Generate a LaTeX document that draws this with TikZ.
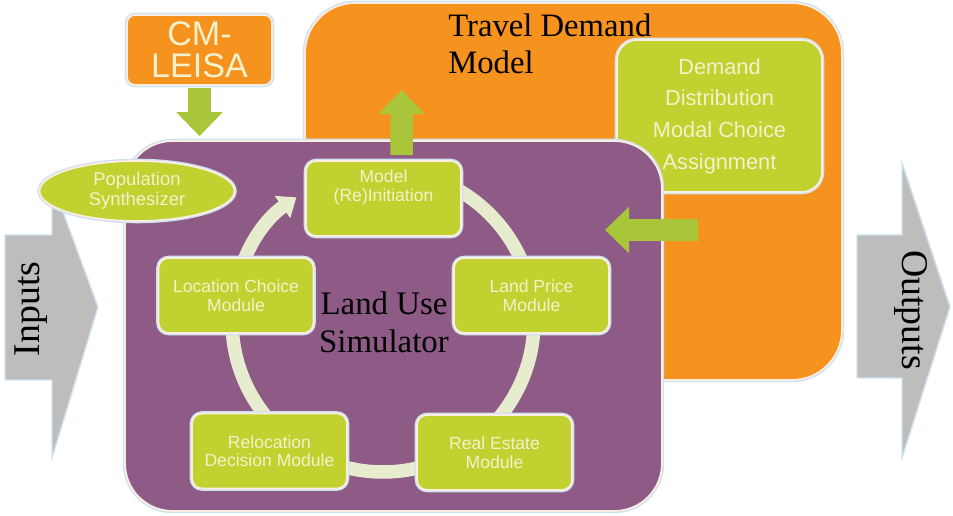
\documentclass[tikz,border=0pt]{standalone}
\usepackage{fontspec}
\setmainfont{Liberation Serif}
\setsansfont{Liberation Sans}
\usetikzlibrary{arrows.meta,shapes.geometric}

\definecolor{tdmorange}{HTML}{F6921E}
\definecolor{simpurple}{HTML}{8D5B86}
\definecolor{modgreen}{HTML}{C1D12F}
\definecolor{modtext}{HTML}{F4F2CC}
\definecolor{ringcream}{HTML}{E7ECCF}
\definecolor{arrowgreen}{HTML}{A9C63B}
\definecolor{iogray}{HTML}{BDBDBD}
\definecolor{rim}{HTML}{FBEDE3}
\definecolor{halo}{HTML}{CFE3EE}

\tikzset{
  halo/.style={preaction={draw=halo,line width=2.6pt}},
  box/.style={draw=rim,line width=1pt,halo},
  modfont/.style={align=center,text=modtext,font=\sffamily\fontsize{10}{10.5}\selectfont},
  module/.style={box,modfont,fill=modgreen,rounded corners=0.2cm,
    minimum width=3.1cm,minimum height=1.5cm,inner sep=0pt},
  feed/.style={draw=arrowgreen,line width=0.45cm,-{Triangle[width=0.9cm,length=0.48cm]}},
  ring/.style={draw=ringcream,line width=0.27cm,-{Triangle[width=0.52cm,length=0.34cm]}},
  io/.style={fill=iogray,draw=halo,line width=0.8pt},
  title/.style={font=\fontsize{18.6}{21.5}\selectfont,inner sep=0pt}
}

\begin{document}
\begin{tikzpicture}[x=0.02cm,y=-0.02cm]
    \useasboundingbox (0,0) rectangle (953,516);
    % travel demand model
    \node[box,fill=tdmorange,rounded corners=1cm,minimum width=10.74cm,minimum height=7.54cm] (tdm) at (573.5,191.5) {};
    \node[title,anchor=north west,align=left] (tdmtitle) at (448,13) {Travel Demand\\Model};
    \node[box,fill=modgreen,rounded corners=0.4cm,minimum width=4.1cm,minimum height=3.04cm,
      align=center,text=modtext,font=\sffamily\fontsize{12.4}{18}\selectfont] (demand) at (719.5,116)
      {Demand\\Distribution\\Modal Choice\\Assignment};

    % land use simulator
    \node[box,fill=simpurple,rounded corners=0.95cm,minimum width=10.74cm,minimum height=7.4cm] (sim) at (393.5,326) {};
    \draw[ring] (383,170) arc[start angle=-90,end angle=235,radius=151];

    \node[module,label={[modfont,anchor=north,inner sep=0pt,yshift=-5.5pt]north:{Model\\(Re)Initiation}}] (init) at (383.5,198.5) {};
    \node[module] (price) at (531.5,295.5) {Land Price\\Module};
    \node[module] (estate) at (494.5,452.5) {Real Estate\\Module};
    \node[module] (reloc) at (269.5,451) {Relocation\\Decision Module};
    \node[module] (locate) at (236,295.5) {Location Choice\\Module};
    \node[title,font=\fontsize{18.7}{21.6}\selectfont,align=center] (simtitle) at (384,322) {Land Use\\Simulator};

    % inputs
    \path[io] (5,235) -- (52,235) -- (52,182) -- (98,307) -- (52,458) -- (52,380) -- (5,380) -- cycle;
    \node[title,font=\fontsize{21.5}{24}\selectfont,rotate=90] (inputs) at (31,309) {Inputs};

    \node[box,ellipse,fill=modgreen,minimum width=3.9cm,minimum height=1.2cm,inner sep=0pt,
      align=center,text=modtext,font=\sffamily\fontsize{10.5}{11.4}\selectfont] (synth) at (137,191) {Population\\Synthesizer};
    \node[box,fill=tdmorange,rounded corners=0.16cm,minimum width=2.9cm,minimum height=1.4cm,
      align=center,text=modtext,font=\sffamily\fontsize{19.4}{18.2}\selectfont] (cm) at (199.5,50) {CM-\\LEISA};

    % links between the models
    \coordinate (tdmin) at (401.5,90);
    \coordinate (tdmout) at (698,230);
    \coordinate (simin) at (605,230);
    \draw[feed,shorten <=0.04cm,shorten >=0.08cm] (cm) -- (cm |- sim.north);
    \draw[feed,shorten <=0.1cm] ([xshift=0.36cm]init.north) -- (tdmin);
    \draw[feed] (tdmout) -- (simin);

    % outputs
    \path[io] (857,235) -- (902,235) -- (902,163) -- (950,307) -- (902,458) -- (902,378) -- (857,378) -- cycle;
    \node[title,font=\fontsize{21.5}{24}\selectfont,rotate=-90] (outputs) at (911,310) {Outputs};
\end{tikzpicture}
\end{document}
